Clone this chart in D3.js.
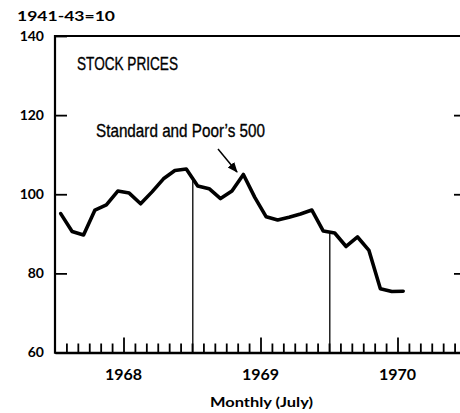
<!DOCTYPE html>
<html>
<head>
<meta charset="utf-8">
<script src="https://cdn.jsdelivr.net/npm/d3@7"></script>
<style>
  body { margin: 0; background: #fff; }
  .futura { font-family: Lato, "DejaVu Sans", sans-serif; font-weight: 700; fill: #000; }
  .narrow { font-family: "Liberation Sans Narrow", "Liberation Sans", sans-serif; fill: #000; stroke: #000; stroke-width: 0.35px; }
</style>
</head>
<body>
<script>
// S&P 500 monthly, Jan 1968 - Jul 1970 (1941-43=10)
var months = d3.range(31) // months since Jan 1968
var values = [
  95.1, 90.6, 89.7, 96.0, 97.3, 100.8, 100.3, 97.6, 100.6, 103.9, 106.0, 106.4,
  102.1, 101.4, 98.9, 100.8, 105.0, 99.2, 94.3, 93.5, 94.2, 95.0, 96.0, 90.7,
  90.2, 86.8, 89.2, 85.8, 76.1, 75.4, 75.5
]
var yearLabels = ['1968', '1969', '1970']
var yearTicks = [6, 18, 30]      // July of each year
var markerMonths = [12, 24]      // vertical lines, Jan 1969 and Jan 1970
var yTicks = [60, 80, 100, 120, 140]

var data = months.map(function(m, i){ return {m: m, v: values[i]} })

var svg = d3.select('body').append('svg').attr('width', 460).attr('height', 413)

var x = d3.scaleLinear().domain([0, 36]).range([55, 466])
var y = d3.scaleLinear().domain([60, 140]).range([352.5, 36])

// frame
svg.append('line').attr('x1', x(0)).attr('x2', x(36)).attr('y1', y(140)).attr('y2', y(140))
  .attr('stroke', '#000').attr('stroke-width', 2.2)
svg.append('line').attr('x1', x(0)).attr('x2', x(0)).attr('y1', y(140) - 1).attr('y2', y(60) + 1.3)
  .attr('stroke', '#000').attr('stroke-width', 2.2)
svg.append('line').attr('x1', x(36)).attr('x2', x(36)).attr('y1', y(140)).attr('y2', y(60))
  .attr('stroke', '#000').attr('stroke-width', 2.2)

// bottom axis: month ticks pointing up
var xAxis = svg.append('g').attr('transform', 'translate(0,' + y(60) + ')')
  .call(d3.axisBottom(x).tickValues(d3.range(1, 36)).tickSizeInner(-9).tickSizeOuter(0).tickFormat(''))
xAxis.select('.domain').attr('stroke-width', 2.6)
xAxis.selectAll('.tick line').attr('stroke-width', 1.8)
  .filter(function(d){ return yearTicks.indexOf(d) > -1 })
  .attr('y2', -15)

// left axis
var yAxis = svg.append('g').attr('transform', 'translate(' + x(0) + ',0)')
  .call(d3.axisLeft(y).tickValues(yTicks).tickSizeInner(-12).tickSizeOuter(0).tickPadding(11))
yAxis.select('.domain').remove()
yAxis.selectAll('.tick line').attr('stroke-width', 1.8)
yAxis.selectAll('.tick text').attr('class', 'futura').style('font-size', '14px')

// right axis ticks
var rAxis = svg.append('g').attr('transform', 'translate(' + x(36) + ',0)')
  .call(d3.axisRight(y).tickValues([80, 100, 120]).tickSizeInner(-12).tickSizeOuter(0).tickFormat(''))
rAxis.select('.domain').remove()
rAxis.selectAll('.tick line').attr('stroke-width', 1.8)

// year labels
svg.selectAll('text.year').data(yearLabels).enter().append('text')
  .attr('class', 'futura')
  .attr('x', function(d, i){ return x(yearTicks[i]) })
  .attr('y', 380)
  .attr('text-anchor', 'middle')
  .style('font-size', '16px')
  .text(function(d){ return d })

// vertical marker lines up to the series
var interp = function(m){
  var i = Math.floor(m - 0.5)
  var t = m - 0.5 - i
  return values[i] + (values[i + 1] - values[i]) * t
}
svg.selectAll('line.marker').data(markerMonths).enter().append('line')
  .attr('x1', function(d){ return x(d) + 0.8 }).attr('x2', function(d){ return x(d) + 0.8 })
  .attr('y1', y(60)).attr('y2', function(d){ return y(interp(d)) })
  .attr('stroke', '#000').attr('stroke-width', 1.3)

// series
var line = d3.line().x(function(d){ return x(d.m + 0.5) }).y(function(d){ return y(d.v) })
svg.append('path').datum(data).attr('d', line)
  .attr('fill', 'none').attr('stroke', '#000').attr('stroke-width', 3.6)
  .attr('stroke-linejoin', 'round').attr('stroke-linecap', 'round')

// texts
svg.append('text').attr('class', 'futura').attr('x', 17).attr('y', 21)
  .style('font-size', '14px').attr('textLength', 98).attr('lengthAdjust', 'spacingAndGlyphs')
  .text('1941-43=10')

svg.append('text').attr('class', 'narrow').attr('x', 77).attr('y', 70)
  .style('font-size', '18px').attr('textLength', 101).attr('lengthAdjust', 'spacingAndGlyphs')
  .text('STOCK PRICES')

svg.append('text').attr('class', 'narrow').attr('x', 96).attr('y', 137)
  .style('font-size', '18.5px').attr('textLength', 169).attr('lengthAdjust', 'spacingAndGlyphs')
  .text('Standard and Poor\u2019s 500')

svg.append('text').attr('class', 'futura').attr('x', 210).attr('y', 407)
  .style('font-size', '14px').attr('textLength', 103).attr('lengthAdjust', 'spacingAndGlyphs')
  .text('Monthly (July)')

// arrow to the series
svg.append('defs').append('marker').attr('id', 'head')
  .attr('viewBox', '0 0 10 10').attr('refX', 9).attr('refY', 5)
  .attr('markerWidth', 7).attr('markerHeight', 7).attr('orient', 'auto')
  .append('path').attr('d', 'M0,1 L10,5 L0,9 Z').attr('fill', '#000')
svg.append('line').attr('x1', 218).attr('y1', 149).attr('x2', 237).attr('y2', 172)
  .attr('stroke', '#000').attr('stroke-width', 1.5).attr('marker-end', 'url(#head)')
</script>
</body>
</html>
